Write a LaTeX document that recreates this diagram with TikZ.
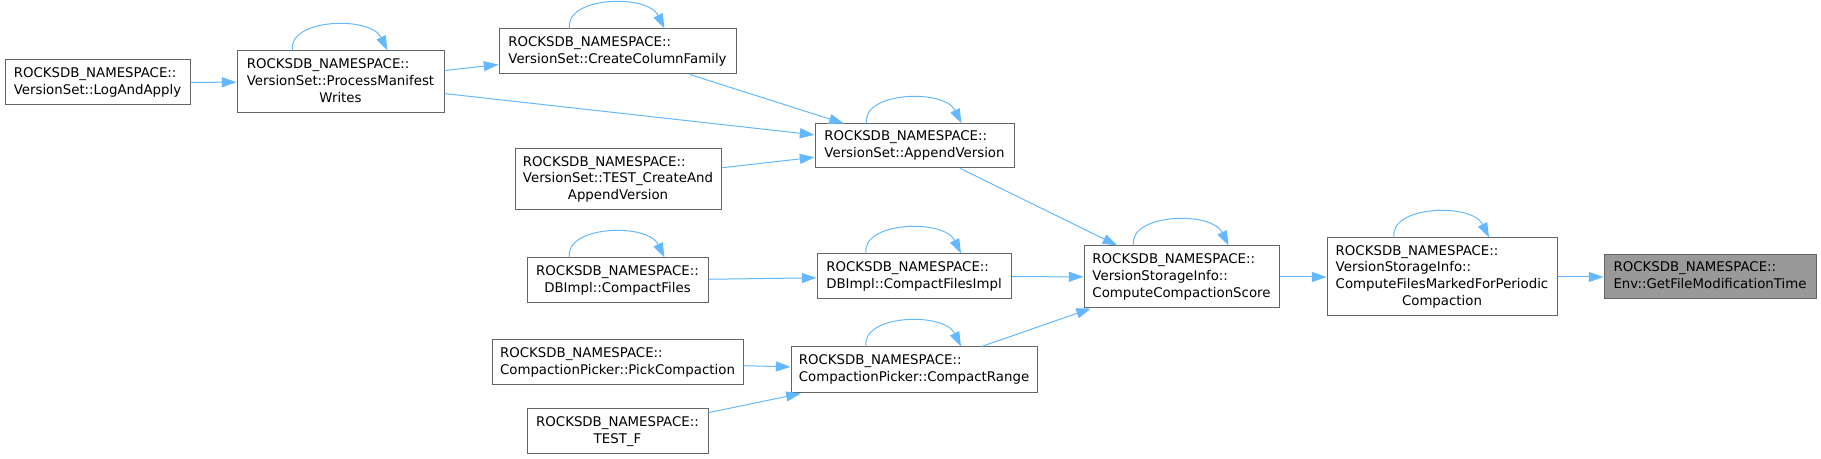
\documentclass[tikz,border=0pt]{standalone}
\usepackage{fontspec}
\setmainfont{DejaVu Sans}
\usetikzlibrary{arrows.meta,calc}
\definecolor{edgeblue}{HTML}{63B8FF}
\definecolor{boxline}{HTML}{666666}
\definecolor{focusfill}{HTML}{999999}
% first lines left, last line centred
\newcommand{\lbl}[2]{\begin{tabular}{@{}l@{}}#1\\\multicolumn{1}{@{}c@{}}{#2}\end{tabular}}

\begin{document}
\begin{tikzpicture}[x=0.75pt,y=-0.75pt,
  box/.style 2 args={draw=boxline,line width=0.75pt,fill=white,inner sep=0pt,
    minimum width=#1*0.75pt,minimum height=#2*0.75pt,font=\fontsize{10}{12.6}\selectfont},
  edge/.style={draw=edgeblue,line width=0.75pt,-{Triangle[length=11pt,width=7.5pt]}}]
\useasboundingbox (0,0) rectangle (1821,459);
% callers, left to right
\node[box={185}{45}] (logapply) at (97.5,82.5) {\lbl{ROCKSDB\_NAMESPACE::}{VersionSet::LogAndApply}};
\node[box={207}{62}] (pmw) at (340.5,82) {\lbl{ROCKSDB\_NAMESPACE::\\VersionSet::ProcessManifest}{Writes}};
\node[box={237}{45}] (ccf) at (617.5,51.5) {\lbl{ROCKSDB\_NAMESPACE::}{VersionSet::CreateColumnFamily}};
\node[box={206}{61}] (tcaav) at (618,179.5) {\lbl{ROCKSDB\_NAMESPACE::\\VersionSet::TEST\_CreateAnd}{AppendVersion}};
\node[box={181}{45}] (cf) at (617.5,280.5) {\lbl{ROCKSDB\_NAMESPACE::}{DBImpl::CompactFiles}};
\node[box={251}{45}] (pick) at (617.5,362.5) {\lbl{ROCKSDB\_NAMESPACE::}{CompactionPicker::PickCompaction}};
\node[box={181}{45}] (testf) at (617.5,431.5) {\lbl{ROCKSDB\_NAMESPACE::}{TEST\_F}};
\node[box={199}{44}] (av) at (914.5,146) {\lbl{ROCKSDB\_NAMESPACE::}{VersionSet::AppendVersion}};
\node[box={194}{45}] (cfi) at (914,276.5) {\lbl{ROCKSDB\_NAMESPACE::}{DBImpl::CompactFilesImpl}};
\node[box={246}{46}] (cr) at (914,370) {\lbl{ROCKSDB\_NAMESPACE::}{CompactionPicker::CompactRange}};
\node[box={195}{62}] (ccs) at (1181.5,277) {\lbl{ROCKSDB\_NAMESPACE::\\VersionStorageInfo::}{ComputeCompactionScore}};
\node[box={230}{78}] (cfm) at (1442,277) {\lbl{ROCKSDB\_NAMESPACE::\\VersionStorageInfo::\\ComputeFilesMarkedForPeriodic}{Compaction}};
% the function itself
\node[box={212}{44},fill=focusfill] (gfmt) at (1710,277) {\lbl{ROCKSDB\_NAMESPACE::}{Env::GetFileModificationTime}};
% calls
\draw[edge] (logapply) -- (pmw);
\draw[edge] (pmw) -- (ccf);
\draw[edge] (pmw) -- (av);
\draw[edge] (ccf) -- (av);
\draw[edge] (tcaav) -- (av);
\draw[edge] (cf) -- (cfi);
\draw[edge] (pick) -- (cr);
\draw[edge] (testf) -- (cr);
\draw[edge] (av) -- (ccs);
\draw[edge] (cfi) -- (ccs);
\draw[edge] (cr) -- (ccs);
\draw[edge] (ccs) -- (cfm);
\draw[edge] (cfm) -- (gfmt);
% recursive calls
\foreach \n in {pmw,ccf,av,cf,cfi,cr,ccs,cfm}
  \draw[edge] ($(\n.north)+(-48,0)$) .. controls +(-5,-32) and +(-17,-35) .. ($(\n.north)+(47,0)$);
\end{tikzpicture}
\end{document}
